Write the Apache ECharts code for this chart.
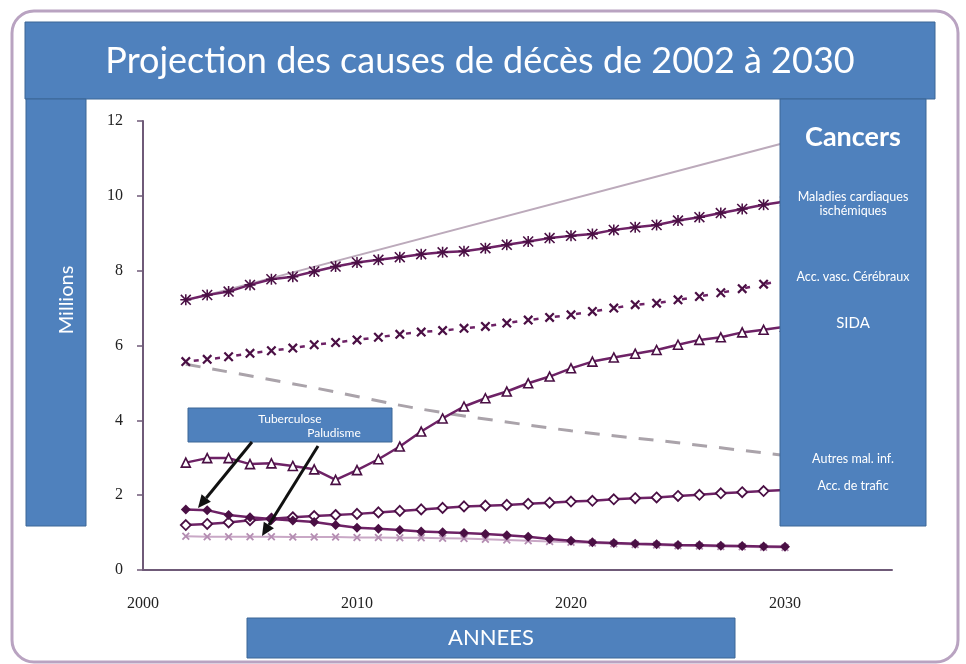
<!DOCTYPE html>
<html><head><meta charset="utf-8">
<script src="https://cdn.jsdelivr.net/npm/echarts@6/dist/echarts.min.js"></script>
<style>html,body{margin:0;padding:0;background:#fff}#c{width:966px;height:664px}</style>
</head><body><div id="c"></div>
<script>
// ---- data (millions of deaths) ----
const years = [2002,2003,2004,2005,2006,2007,2008,2009,2010,2011,2012,2013,2014,2015,2016,2017,2018,2019,2020,2021,2022,2023,2024,2025,2026,2027,2028,2029,2030];
const cardiaques = [7.22,7.35,7.44,7.62,7.77,7.84,7.98,8.11,8.22,8.29,8.36,8.44,8.49,8.52,8.60,8.69,8.78,8.87,8.93,8.98,9.09,9.16,9.22,9.34,9.43,9.54,9.65,9.76,9.85];
const cerebraux = [5.57,5.63,5.70,5.79,5.86,5.93,6.02,6.08,6.15,6.22,6.30,6.36,6.40,6.46,6.51,6.60,6.68,6.75,6.82,6.91,7.00,7.09,7.13,7.22,7.31,7.41,7.52,7.64,7.75];
const sida = [2.87,2.99,2.99,2.83,2.85,2.78,2.69,2.41,2.67,2.96,3.30,3.70,4.05,4.37,4.59,4.77,4.99,5.17,5.39,5.57,5.68,5.78,5.88,6.02,6.15,6.22,6.35,6.42,6.50];
const trafic = [1.20,1.23,1.27,1.33,1.37,1.41,1.44,1.47,1.50,1.54,1.58,1.62,1.66,1.70,1.72,1.74,1.77,1.80,1.83,1.85,1.89,1.92,1.94,1.98,2.01,2.05,2.08,2.11,2.14];
const tuberculose = [1.62,1.60,1.47,1.41,1.36,1.32,1.28,1.20,1.13,1.10,1.07,1.03,1.01,0.99,0.96,0.93,0.89,0.83,0.78,0.74,0.72,0.70,0.69,0.67,0.66,0.65,0.64,0.63,0.62];
const paludisme = [0.90,0.89,0.89,0.89,0.89,0.88,0.88,0.88,0.87,0.87,0.86,0.86,0.85,0.84,0.82,0.80,0.78,0.76,0.74,0.72,0.70,0.68,0.67,0.65,0.64,0.63,0.62,0.61,0.60];
const cancerYears = [2002,2030];
const cancers = [7.20,11.42];
const autresYears = [2002,2008,2013,2020,2025,2030];
const autres = [5.50,4.87,4.30,3.72,3.40,3.06];
const xTicks = [2000,2010,2020,2030];
const yTicks = [0,2,4,6,8,10,12];

const zip = (xs, ys) => xs.map((x, i) => [x, ys[i]]);

const DARK = '#6e2266', MK = '#4a0f44';
const STAR = 'path://M0,1L1,0L10,9L9,10ZM9,0L10,1L1,10L0,9ZM4.3,0H5.7V10H4.3ZM0,4.3H10V5.7H0Z';
const XMK = 'path://M0,1.6L1.6,0L10,8.4L8.4,10ZM8.4,0L10,1.6L1.6,10L0,8.4Z';
const FONT = 'Lato';

function box(x, y, w, h) {
  return { type: 'rect', z: 100, shape: { x, y, width: w, height: h },
    style: { fill: '#4f81bd', stroke: '#3d6696', lineWidth: 1 } };
}
function txt(x, y, s, size, extra) {
  return Object.assign({ type: 'text', z: 101, x, y,
    style: { text: s, fill: '#fff', font: (extra && extra.weight ? extra.weight + ' ' : '') + size + 'px ' + FONT,
      textAlign: 'center', textVerticalAlign: 'middle' } }, extra && extra.el ? extra.el : {});
}
function arrow(x1, y1, x2, y2) {
  const a = Math.atan2(y2 - y1, x2 - x1), L = 13, W = 6;
  const bx = x2 - L * Math.cos(a), by = y2 - L * Math.sin(a);
  const px = -Math.sin(a) * W, py = Math.cos(a) * W;
  return [
    { type: 'line', z: 102, shape: { x1, y1, x2: bx, y2: by }, style: { stroke: '#111', lineWidth: 3 } },
    { type: 'polygon', z: 102, shape: { points: [[x2, y2], [bx + px, by + py], [bx - px, by - py]] }, style: { fill: '#111' } }
  ];
}

const chart = echarts.init(document.getElementById('c'), null, { renderer: 'canvas' });
chart.setOption({
  backgroundColor: '#fff',
  animation: false,
  grid: { left: 143, right: 74, top: 121, bottom: 94, containLabel: false },
  xAxis: {
    type: 'value', min: 2000, max: 2035, interval: 10,
    axisLine: { show: true, lineStyle: { color: '#6f5a78', width: 2 } },
    axisTick: { show: false },
    splitLine: { show: false },
    axisLabel: { margin: 26, color: '#222', fontFamily: 'Liberation Serif', fontSize: 16,
      formatter: v => xTicks.indexOf(v) >= 0 ? String(v) : '' }
  },
  yAxis: {
    type: 'value', min: 0, max: 12, interval: 2,
    axisLine: { show: true, lineStyle: { color: '#6f5a78', width: 2 } },
    axisTick: { show: true, length: 6, lineStyle: { color: '#6f5a78', width: 1.5 } },
    splitLine: { show: false },
    axisLabel: { margin: 20, color: '#222', fontFamily: 'Liberation Serif', fontSize: 16,
      formatter: v => yTicks.indexOf(v) >= 0 ? String(v) : '' }
  },
  series: [
    { name: 'Cancers', type: 'line', data: zip(cancerYears, cancers), showSymbol: false, symbol: 'none',
      lineStyle: { color: '#bcaabb', width: 2 }, z: 1 },
    { name: 'Autres mal. inf.', type: 'line', data: zip(autresYears, autres), showSymbol: false, symbol: 'none', smooth: 0.3,
      lineStyle: { color: '#aaa3aa', width: 3, type: [15, 12] }, z: 1 },
    { name: 'Maladies cardiaques ischémiques', type: 'line', data: zip(years, cardiaques), symbol: STAR, symbolSize: 11,
      lineStyle: { color: DARK, width: 2.5 }, itemStyle: { color: MK, borderWidth: 0 }, z: 3 },
    { name: 'Acc. vasc. Cérébraux', type: 'line', data: zip(years, cerebraux), symbol: XMK, symbolSize: 10,
      lineStyle: { color: DARK, width: 2.5, type: [5, 16.4], dashOffset: 13.4 }, itemStyle: { color: MK, borderWidth: 0 }, z: 3 },
    { name: 'SIDA', type: 'line', data: zip(years, sida), symbol: 'triangle', symbolSize: 9,
      lineStyle: { color: DARK, width: 2.5 }, itemStyle: { color: '#fff', borderColor: MK, borderWidth: 1.6 }, z: 3 },
    { name: 'Acc. de trafic', type: 'line', data: zip(years, trafic), symbol: 'diamond', symbolSize: 10,
      lineStyle: { color: DARK, width: 2.5 }, itemStyle: { color: '#fff', borderColor: MK, borderWidth: 1.8 }, z: 3 },
    { name: 'Paludisme', type: 'line', data: zip(years, paludisme), symbol: XMK, symbolSize: 8,
      lineStyle: { color: '#c9a8c6', width: 2 }, itemStyle: { color: '#b48db2', borderWidth: 0 }, z: 2 },
    { name: 'Tuberculose', type: 'line', data: zip(years, tuberculose), symbol: 'diamond', symbolSize: 10,
      lineStyle: { color: DARK, width: 2.5 }, itemStyle: { color: MK, borderWidth: 0 }, z: 3 }
  ],
  graphic: { elements: [
    { type: 'rect', z: 0, shape: { x: 12, y: 11, width: 946, height: 651, r: 22 },
      style: { fill: 'none', stroke: '#b9a3c1', lineWidth: 3 } },
    box(25, 22, 910, 77),
    txt(480, 61, 'Projection des causes de décès de 2002 à 2030', 36),
    box(26, 99, 60, 427),
    txt(67, 300, 'Millions', 20, { el: { rotation: Math.PI / 2 } }),
    box(780, 99, 146, 427),
    txt(853, 137, 'Cancers', 27, { weight: 'bold' }),
    txt(853, 197, 'Maladies cardiaques', 12.5),
    txt(853, 211, 'ischémiques', 12.5),
    txt(853, 277, 'Acc. vasc. Cérébraux', 12.5),
    txt(853, 323, 'SIDA', 15),
    txt(853, 459, 'Autres mal. inf.', 12.5),
    txt(853, 486, 'Acc. de trafic', 12.5),
    box(247, 618, 488, 40),
    txt(491, 638, 'ANNEES', 22),
    box(188, 408, 204, 34),
    txt(290, 419, 'Tuberculose', 12),
    txt(334, 433, 'Paludisme', 12),
    ...arrow(252, 442, 198, 508),
    ...arrow(318, 446, 262, 536)
  ] }
});
</script></body></html>
